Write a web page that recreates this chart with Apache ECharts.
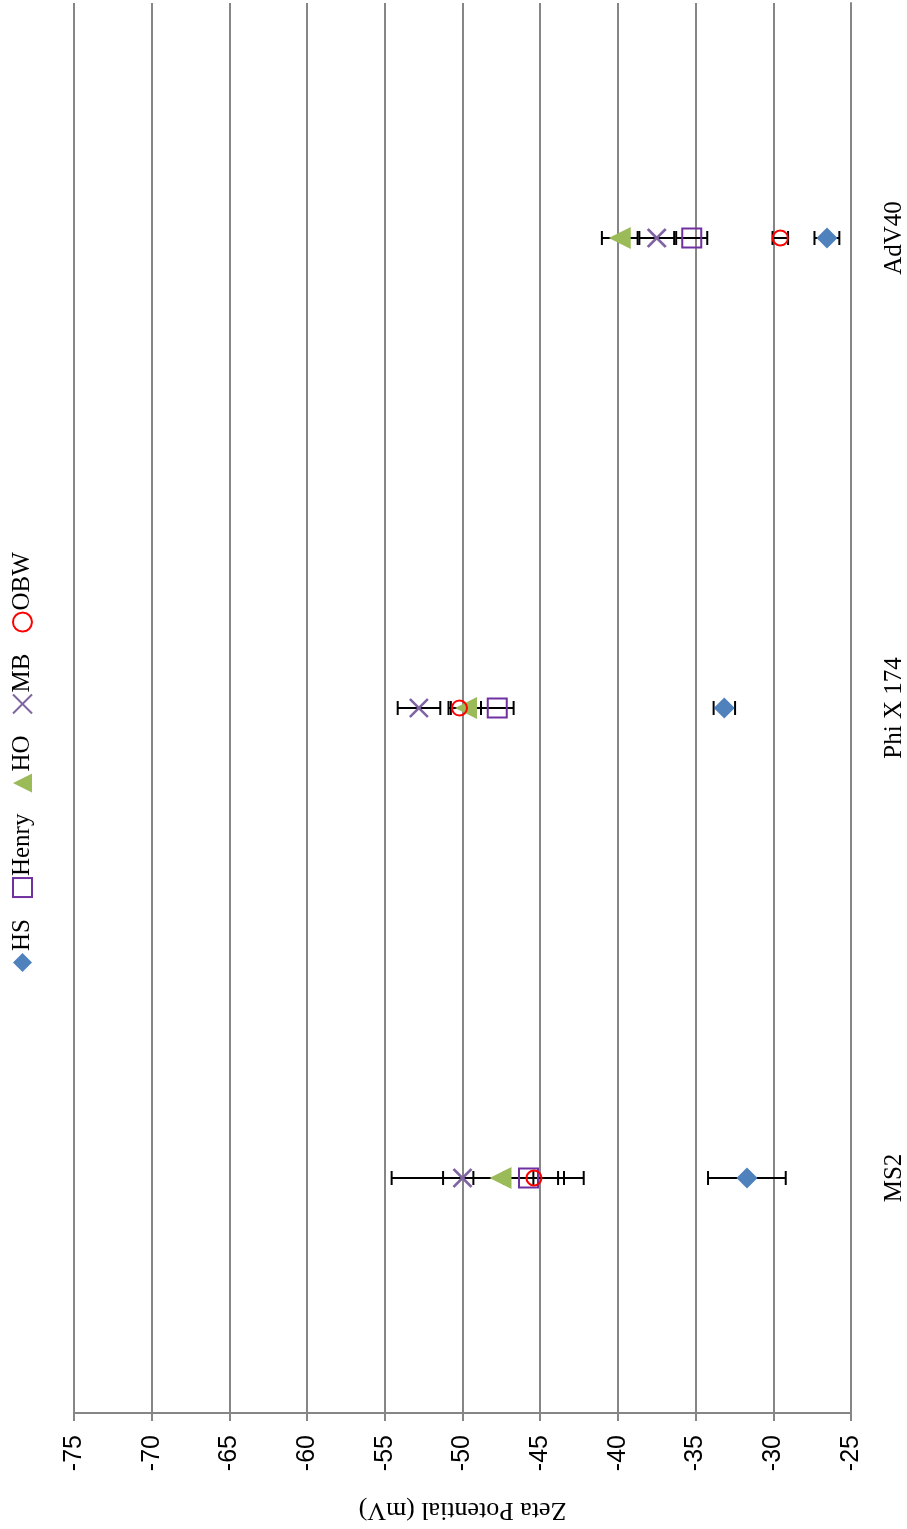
<!DOCTYPE html>
<html>
<head>
<meta charset="utf-8">
<script src="https://cdn.jsdelivr.net/npm/echarts@6/dist/echarts.min.js"></script>
<style>
  html, body { margin: 0; padding: 0; background: #ffffff; overflow: hidden; }
  body { width: 907px; height: 1529px; position: relative; }
  /* The chart is laid out landscape and turned a quarter turn counter-clockwise onto the page */
  #chart {
    position: absolute; left: 0; top: 0;
    width: 1529px; height: 907px;
    transform-origin: 0 0;
    transform: translate(0px, 1529px) rotate(-90deg);
  }
</style>
</head>
<body>
<div id="chart"></div>
<script>
// Virus types along the category axis
const categories = ['MS2', 'Phi X 174', 'AdV40'];

// Zeta potential (mV) per model, mean and error (±)
const hsMean    = [-31.7, -33.15, -26.55];
const hsErr     = [2.5, 0.69, 0.8];
const henryMean = [-45.75, -47.76, -35.25];
const henryErr  = [3.55, 1.05, 1.0];
const hoMean    = [-47.55, -49.78, -39.88];
const hoErr     = [3.7, 0.97, 1.15];
const mbMean    = [-50.0, -52.8, -37.5];
const mbErr     = [4.56, 1.37, 1.12];
const obwMean   = [-45.4, -50.2, -29.55];
const obwErr    = [1.93, 0.7, 0.5];

// Value axis ticks
const yMin = -75, yMax = -25, yStep = 5;

const serif = '"Liberation Serif", "Times New Roman", serif';
const sans = '"Liberation Sans", Arial, sans-serif';

const models = [
  { name: 'HS',    mean: hsMean,    err: hsErr,    symbol: 'diamond',  size: 21,
    style: { color: '#4F81BD', opacity: 1 } },
  { name: 'Henry', mean: henryMean, err: henryErr, symbol: 'rect',     size: 19,
    style: { color: 'rgba(0,0,0,0)', borderColor: '#7030A0', borderWidth: 2, opacity: 1 } },
  { name: 'HO',    mean: hoMean,    err: hoErr,    symbol: 'triangle', size: 22,
    style: { color: '#9BBB59', opacity: 1 } },
  { name: 'MB',    mean: mbMean,    err: mbErr,    symbol: 'path://M0,0L10,10M10,0L0,10', size: 18,
    style: { color: 'rgba(0,0,0,0)', borderColor: '#8064A2', borderWidth: 2.5, opacity: 1 } },
  { name: 'OBW',   mean: obwMean,   err: obwErr,   symbol: 'circle',   size: 15,
    style: { color: 'rgba(0,0,0,0)', borderColor: '#FF0000', borderWidth: 2, opacity: 1 } }
];

// Error bar: vertical whisker with short end caps
function errorBarItem(params, api) {
  const x = api.value(0);
  const lo = api.coord([x, api.value(1)]);
  const hi = api.coord([x, api.value(2)]);
  const cap = 7;
  const st = { stroke: '#000000', lineWidth: 2 };
  return {
    type: 'group',
    children: [
      { type: 'line', shape: { x1: lo[0], y1: lo[1], x2: hi[0], y2: hi[1] }, style: st },
      { type: 'line', shape: { x1: lo[0] - cap, y1: lo[1], x2: lo[0] + cap, y2: lo[1] }, style: st },
      { type: 'line', shape: { x1: hi[0] - cap, y1: hi[1], x2: hi[0] + cap, y2: hi[1] }, style: st }
    ]
  };
}

const series = [];
models.forEach(m => {
  series.push({
    name: m.name + ' error',
    type: 'custom',
    renderItem: errorBarItem,
    z: 2,
    silent: true,
    data: m.mean.map((v, i) => [i, v - m.err[i], v + m.err[i]])
  });
});
models.forEach(m => {
  series.push({
    name: m.name,
    type: 'scatter',
    symbol: m.symbol,
    symbolSize: m.size,
    itemStyle: m.style,
    z: 3,
    data: m.mean.map((v, i) => [i, v])
  });
});

const chart = echarts.init(document.getElementById('chart'), null, { renderer: 'canvas' });
chart.setOption({
  animation: false,
  backgroundColor: '#ffffff',
  legend: {
    data: models.map(m => m.name),
    left: 552,
    top: 5,
    itemWidth: 19,
    itemHeight: 19,
    itemGap: 21,
    textStyle: { fontFamily: serif, fontSize: 25, color: '#000000', padding: [0, 0, 0, -3] }
  },
  grid: { left: 116, right: 3, top: 74, bottom: 56, containLabel: false, outerBoundsMode: 'none' },
  xAxis: {
    type: 'category',
    data: categories,
    boundaryGap: true,
    axisLine: { lineStyle: { color: '#868686', width: 2 } },
    axisTick: { inside: true, length: 8, lineStyle: { color: '#868686', width: 2 } },
    axisLabel: { fontFamily: serif, fontSize: 25, color: '#000000', margin: 31 },
    splitLine: { show: false }
  },
  yAxis: {
    type: 'value',
    min: yMin,
    max: yMax,
    interval: yStep,
    inverse: true,
    name: 'Zeta Potential (mV)',
    nameLocation: 'middle',
    nameRotate: 90,
    nameGap: 84,
    nameTextStyle: { fontFamily: serif, fontSize: 26, color: '#000000' },
    axisLine: { show: true, lineStyle: { color: '#868686', width: 2 } },
    axisTick: { show: true, length: 8, lineStyle: { color: '#868686', width: 2 } },
    axisLabel: { fontFamily: sans, fontSize: 25, color: '#000000', margin: 22 },
    splitLine: { show: true, lineStyle: { color: '#868686', width: 2 } }
  },
  series: series
});
</script>
</body>
</html>
